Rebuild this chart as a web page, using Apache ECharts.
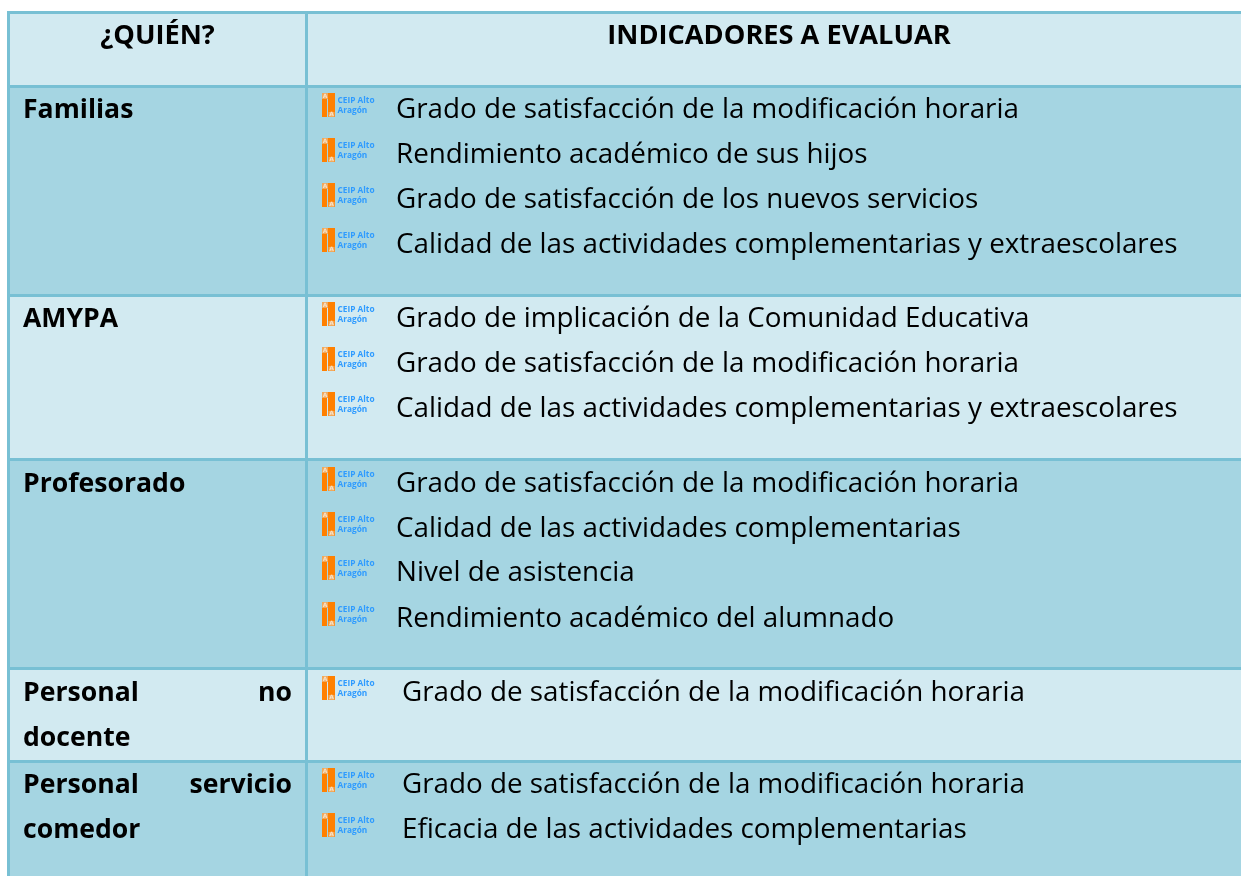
<!DOCTYPE html>
<html><head><meta charset="utf-8">
<style>html,body{margin:0;padding:0;background:#fff}#c{width:1241px;height:876px}</style>
<script src="https://cdn.jsdelivr.net/npm/echarts@6/dist/echarts.min.js"></script>
</head><body><div id="c"></div>
<script>
const headers = ['¿QUIÉN?', 'INDICADORES A EVALUAR'];
const groups = [
  ['Familias'],
  ['AMYPA'],
  ['Profesorado'],
  ['Personal no', 'docente'],
  ['Personal servicio', 'comedor']
];
const indicators = [
  ['Grado de satisfacción de la modificación horaria','Rendimiento académico de sus hijos','Grado de satisfacción de los nuevos servicios','Calidad de las actividades complementarias y extraescolares'],
  ['Grado de implicación de la Comunidad Educativa','Grado de satisfacción de la modificación horaria','Calidad de las actividades complementarias y extraescolares'],
  ['Grado de satisfacción de la modificación horaria','Calidad de las actividades complementarias','Nivel de asistencia','Rendimiento académico del alumnado'],
  ['Grado de satisfacción de la modificación horaria'],
  ['Grado de satisfacción de la modificación horaria','Eficacia de las actividades complementarias']
];
const logoLines = ['CEIP Alto', 'Aragón'];

// layout
const FONT = '"Open Sans", sans-serif', FS = 27.8, FSB = 26.6, FSH = 27.2;
const LIGHT = '#D2EAF1', DARK = '#A5D5E2', BORDER = '#78C0D4';
const rowTops = [14, 88, 297, 461, 670, 763];
const rowBottoms = [85, 294, 458, 667, 760, 876];
const itemY = [[108,153,198,243],[317,362,407],[482,527,571,617],[691],[783,828]];
const labelY = [[108],[317],[482],[691,736],[783,828]];
const itemX = [396,396,396,402,402];
const C1 = [10,305], C2 = [308,1241];
const TEXT_DY = 2;

function rect(x,y,w,h,fill){return {type:'rect',shape:{x,y,width:w,height:h},style:{fill}};}
function text(t,x,y,o){return {type:'text',style:Object.assign({text:t,x,y,fill:'#000',font:`${FS}px ${FONT}`,verticalAlign:'middle',align:'left'},o||{})};}
function logo(cy){
  const x=322,t=cy-15,tf='bold 8.3px "Open Sans", sans-serif',af='bold 6px "DejaVu Sans", sans-serif';
  return [
    rect(x,t+5,5,19,'#FF8000'),
    rect(x+6,t,7,24,'#FF8000'),
    rect(x,t,6,6,'#F2A95C'),
    rect(x+6.5,t+19,6,5,'#F2A95C'),
    text('A',x+3,t+3,{font:af,fill:'#F6E2C8',align:'center'}),
    text('A',x+9.5,t+21.5,{font:af,fill:'#F6E2C8',align:'center'}),
    text(logoLines[0],x+15.5,cy-7.4,{font:tf,fill:'#2E9BFF'}),
    text(logoLines[1],x+15.5,cy+2.6,{font:tf,fill:'#2E9BFF'})
  ];
}
function renderRow(params){
  const i = params.dataIndex, ch=[];
  const fill = i%2===0 ? LIGHT : DARK;
  const bold=`bold ${FSB}px ${FONT}`, head=`bold ${FSH}px ${FONT}`;
  ch.push(rect(C1[0],rowTops[i],C1[1]-C1[0],rowBottoms[i]-rowTops[i],fill));
  ch.push(rect(C2[0],rowTops[i],C2[1]-C2[0],rowBottoms[i]-rowTops[i],fill));
  if(i===0){
    ch.push(text(headers[0],157.5,34+TEXT_DY,{font:head,align:'center'}));
    ch.push(text(headers[1],779,34+TEXT_DY,{font:head,align:'center'}));
    return {type:'group',children:ch};
  }
  const g=i-1;
  groups[g].forEach((line,k)=>{
    const words=line.split(' ');
    const y=labelY[g][k]+TEXT_DY;
    if(words.length===2){
      ch.push(text(words[0],23,y,{font:bold}));
      ch.push(text(words[1],292,y,{font:bold,align:'right'}));
    } else ch.push(text(line,23,y,{font:bold}));
  });
  indicators[g].forEach((line,k)=>{
    ch.push(...logo(itemY[g][k]));
    ch.push(text(line,itemX[g],itemY[g][k]+TEXT_DY));
  });
  return {type:'group',children:ch};
}
const chart = echarts.init(document.getElementById('c'),null,{renderer:'canvas'});
chart.setOption({
  animation:false,
  backgroundColor:'#fff',
  graphic:[{type:'rect',silent:true,z:-1,shape:{x:7,y:11,width:1234,height:865},style:{fill:BORDER}}],
  series:[{type:'custom',coordinateSystem:'none',silent:true,clip:false,z:2,renderItem:renderRow,
    data:[headers[0]].concat(groups.map(g=>g.join(' ')))}]
});
</script></body></html>
